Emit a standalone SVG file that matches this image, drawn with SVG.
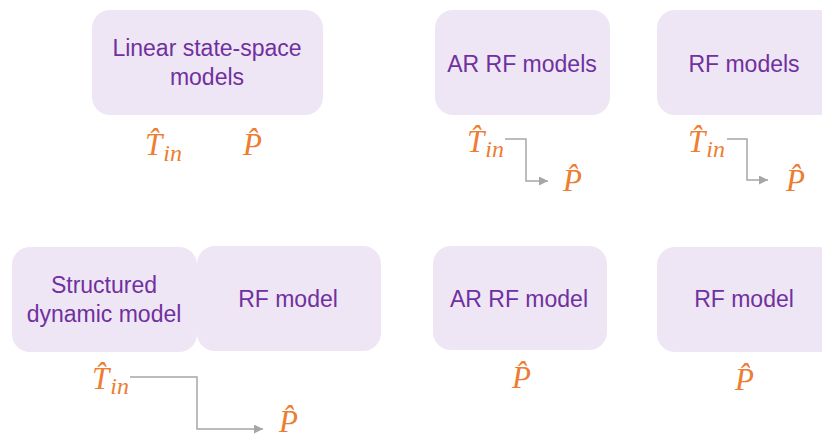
<svg xmlns="http://www.w3.org/2000/svg" width="822" height="440" viewBox="0 0 822 440">
<style>
.box{fill:#EEE6F4}
.lbl{font-family:"Liberation Sans",Arial,sans-serif;font-size:23px;fill:#7030A0;text-anchor:middle}
.m{font-family:"Liberation Serif","Times New Roman",serif;font-style:italic;font-size:31px;fill:#ED7D31}
.sub{font-size:24px}
.conn{fill:none;stroke:#A6A6A6;stroke-width:1.5}
</style>
<defs>
<marker id="ah" viewBox="0 0 10 10" refX="10" refY="5" markerWidth="9" markerHeight="9" markerUnits="userSpaceOnUse" orient="auto">
<path d="M0,0 L10,5 L0,10 z" fill="#A6A6A6"/>
</marker>
</defs>
<rect width="822" height="440" fill="#FFFFFF"/>
<g id="linear-ss">
<rect class="box" x="92" y="10" width="231" height="105" rx="18"/>
<text class="lbl" x="207" y="56">Linear state-space</text>
<text class="lbl" x="207" y="85">models</text>
</g>
<g id="ar-rf-models">
<rect class="box" x="435" y="10" width="175" height="105" rx="18"/>
<text class="lbl" x="522" y="72">AR RF models</text>
</g>
<g id="rf-models">
<rect class="box" x="657" y="10" width="185" height="105" rx="18"/>
<text class="lbl" x="744" y="72">RF models</text>
</g>
<g id="structured">
<rect class="box" x="12" y="247" width="185" height="105" rx="18"/>
<text class="lbl" x="104" y="293">Structured</text>
<text class="lbl" x="104" y="322">dynamic model</text>
</g>
<g id="rf-model-1">
<rect class="box" x="197" y="246" width="184" height="105" rx="18"/>
<text class="lbl" x="288" y="307">RF model</text>
</g>
<g id="ar-rf-model">
<rect class="box" x="433" y="246" width="174" height="104" rx="18"/>
<text class="lbl" x="519" y="307">AR RF model</text>
</g>
<g id="rf-model-2">
<rect class="box" x="657" y="247" width="185" height="105" rx="18"/>
<text class="lbl" x="744" y="307">RF model</text>
</g>
<g id="symbols">
<text class="m" x="145" y="155">T̂<tspan class="sub" dx="1" dy="6">in</tspan></text>
<text class="m" x="243" y="155">P̂</text>
<text class="m" x="467" y="152">T̂<tspan class="sub" dx="1" dy="5">in</tspan></text>
<text class="m" x="563" y="191">P̂</text>
<text class="m" x="688" y="152">T̂<tspan class="sub" dx="1" dy="5">in</tspan></text>
<text class="m" x="786" y="191">P̂</text>
<text class="m" x="92" y="389">T̂<tspan class="sub" dx="1" dy="5">in</tspan></text>
<text class="m" x="279" y="432">P̂</text>
<text class="m" x="512" y="388">P̂</text>
<text class="m" x="735" y="390">P̂</text>
</g>
<g id="connectors">
<path class="conn" d="M505,139 H526 V181 H548" marker-end="url(#ah)"/>
<path class="conn" d="M727,139 H747 V180 H768" marker-end="url(#ah)"/>
<path class="conn" d="M130,377 H197 V429 H263" marker-end="url(#ah)"/>
</g>
</svg>
